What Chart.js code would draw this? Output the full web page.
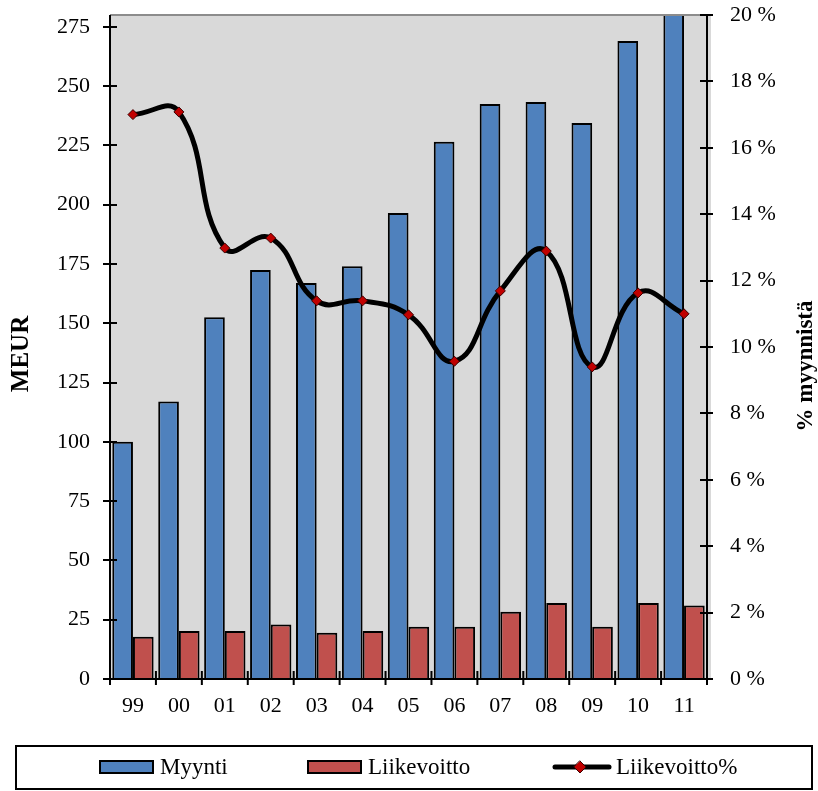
<!DOCTYPE html>
<html><head><meta charset="utf-8">
<script src="https://cdn.jsdelivr.net/npm/chart.js@4/dist/chart.umd.min.js"></script>
<style>html,body{margin:0;padding:0;background:#fff;overflow:hidden}canvas{display:block}</style>
</head><body>
<canvas id="c" width="818" height="791"></canvas>
<script>
const categories = ['99','00','01','02','03','04','05','06','07','08','09','10','11'];
const myynti = [100, 117, 152.5, 172.5, 167, 174, 196.5, 226.5, 242.5, 243.3, 234.5, 269, 285];
const liikevoitto = [17.8, 20.2, 20.2, 23, 19.5, 20.2, 22, 22, 28.4, 32, 22, 32, 31];
const liikevoittoPct = [17.0, 17.08, 12.98, 13.28, 11.39, 11.39, 10.97, 9.57, 11.69, 12.89, 9.4, 11.63, 11.0];
const seriesNames = ['Myynti', 'Liikevoitto', 'Liikevoitto%'];
const leftAxisTitle = 'MEUR';
const rightAxisTitle = '% myynnistä';
const leftMax = 280, leftStep = 25;
const rightMax = 20, rightStep = 2;

const FONT = '"Liberation Serif", "Times New Roman", serif';

const decor = {
  id: 'decor',
  beforeDraw(chart) {
    const {ctx, chartArea: a} = chart;
    ctx.save();
    ctx.fillStyle = '#d9d9d9';
    ctx.fillRect(a.left, a.top, a.right - a.left + 4, a.bottom - a.top);
    ctx.restore();
  },
  afterDraw(chart) {
    const {ctx, chartArea: a, scales} = chart;
    ctx.save();
    ctx.strokeStyle = '#8c8c8c';
    ctx.lineWidth = 2;
    ctx.beginPath(); ctx.moveTo(a.left, a.top); ctx.lineTo(a.right + 4, a.top); ctx.stroke();
    ctx.strokeStyle = '#000';
    ctx.lineWidth = 2;
    ctx.beginPath();
    ctx.moveTo(a.left, a.top); ctx.lineTo(a.left, a.bottom);
    ctx.moveTo(a.right, a.top); ctx.lineTo(a.right, a.bottom);
    ctx.moveTo(a.left, a.bottom); ctx.lineTo(a.right, a.bottom);
    ctx.stroke();
    ctx.beginPath();
    scales.y.ticks.forEach(t => {
      const y = Math.round(scales.y.getPixelForValue(t.value));
      ctx.moveTo(a.left - 7, y); ctx.lineTo(a.left + 7, y);
    });
    scales.y1.ticks.forEach(t => {
      const y = Math.round(scales.y1.getPixelForValue(t.value));
      ctx.moveTo(a.right - 7, y); ctx.lineTo(a.right + 6, y);
    });
    const n = categories.length;
    const w = (a.right - a.left) / n;
    for (let i = 0; i <= n; i++) {
      const x = i < n ? scales.x.getPixelForValue(i) - w / 2 : scales.x.getPixelForValue(n - 1) + w / 2;
      ctx.moveTo(x, a.bottom - 8); ctx.lineTo(x, a.bottom + 6);
    }
    ctx.stroke();
    ctx.fillStyle = '#000';
    ctx.textAlign = 'center';
    ctx.textBaseline = 'middle';
    ctx.font = 'bold 25px ' + FONT;
    ctx.save(); ctx.translate(22, 354); ctx.rotate(-Math.PI / 2); ctx.fillText(leftAxisTitle, 0, 0); ctx.restore();
    ctx.font = 'bold 23px ' + FONT;
    ctx.save(); ctx.translate(806, 366); ctx.rotate(-Math.PI / 2); ctx.fillText(rightAxisTitle, 0, 0); ctx.restore();
    ctx.lineWidth = 2;
    ctx.strokeStyle = '#000';
    ctx.strokeRect(16, 746, 796, 43);
    const ds = chart.data.datasets;
    ctx.font = '23px ' + FONT;
    ctx.textAlign = 'left';
    ctx.textBaseline = 'middle';
    const cy = 767;
    [[100, 0], [308, 1]].forEach(([x, idx]) => {
      const d = ds.find(dd => dd.label === seriesNames[idx]);
      ctx.fillStyle = d.backgroundColor;
      ctx.fillRect(x, 761, 53, 12);
      ctx.strokeStyle = '#000'; ctx.lineWidth = 2;
      ctx.strokeRect(x, 761, 53, 12);
      ctx.fillStyle = '#000';
      ctx.fillText(seriesNames[idx], x + 60, cy + 1);
    });
    ctx.strokeStyle = '#000'; ctx.lineWidth = 5; ctx.lineCap = 'round';
    ctx.beginPath(); ctx.moveTo(555, cy); ctx.lineTo(609, cy); ctx.stroke();
    ctx.fillStyle = '#c00000'; ctx.strokeStyle = '#3a0000'; ctx.lineWidth = 1;
    ctx.beginPath(); ctx.moveTo(580, cy - 6); ctx.lineTo(586, cy); ctx.lineTo(580, cy + 6); ctx.lineTo(574, cy); ctx.closePath();
    ctx.fill(); ctx.stroke();
    ctx.fillStyle = '#000';
    ctx.fillText(seriesNames[2], 616, cy + 1);
    ctx.restore();
  }
};

function noPad(s) { s.paddingTop = 0; s.paddingBottom = 0; s.paddingLeft = 0; s.paddingRight = 0; }

new Chart(document.getElementById('c'), {
  data: {
    labels: categories,
    datasets: [
      {
        type: 'line', label: seriesNames[2], data: liikevoittoPct, yAxisID: 'y1', order: 0,
        borderColor: '#000', borderWidth: 5, tension: 0.45, fill: false,
        pointStyle: 'rectRot', pointRadius: 5, pointBackgroundColor: '#c00000',
        pointBorderColor: '#3a0000', pointBorderWidth: 1, clip: false
      },
      {
        type: 'bar', label: seriesNames[0], data: myynti, yAxisID: 'y', order: 1,
        backgroundColor: '#4f81bd', borderColor: '#000', borderWidth: 2,
        categoryPercentage: 0.9, barPercentage: 1
      },
      {
        type: 'bar', label: seriesNames[1], data: liikevoitto, yAxisID: 'y', order: 2,
        backgroundColor: '#c0504d', borderColor: '#000', borderWidth: 2,
        categoryPercentage: 0.9, barPercentage: 1
      }
    ]
  },
  options: {
    responsive: false,
    animation: false,
    devicePixelRatio: 1,
    layout: { padding: { left: 0, right: 0, top: 15, bottom: 62 } },
    plugins: { legend: { display: false }, tooltip: { enabled: false } },
    scales: {
      x: {
        type: 'category', offset: true,
        grid: { display: false, drawTicks: false },
        border: { display: false },
        ticks: { color: '#000', font: { family: FONT, size: 22 }, padding: 14, maxRotation: 0 },
        afterFit(s) { s.height = 50; noPad(s); }
      },
      y: {
        type: 'linear', position: 'left', min: 0, max: leftMax,
        grid: { display: false, drawTicks: false },
        border: { display: false },
        ticks: { stepSize: leftStep, includeBounds: false, color: '#000', font: { family: FONT, size: 22 }, padding: 20 },
        afterFit(s) { s.width = 110; noPad(s); }
      },
      y1: {
        type: 'linear', position: 'right', min: 0, max: rightMax,
        grid: { display: false, drawTicks: false },
        border: { display: false },
        ticks: { stepSize: rightStep, color: '#000', font: { family: FONT, size: 22 }, padding: 23,
          callback: v => v + ' %' },
        afterFit(s) { s.width = 111; noPad(s); }
      }
    }
  },
  plugins: [decor]
});
</script>
</body></html>
